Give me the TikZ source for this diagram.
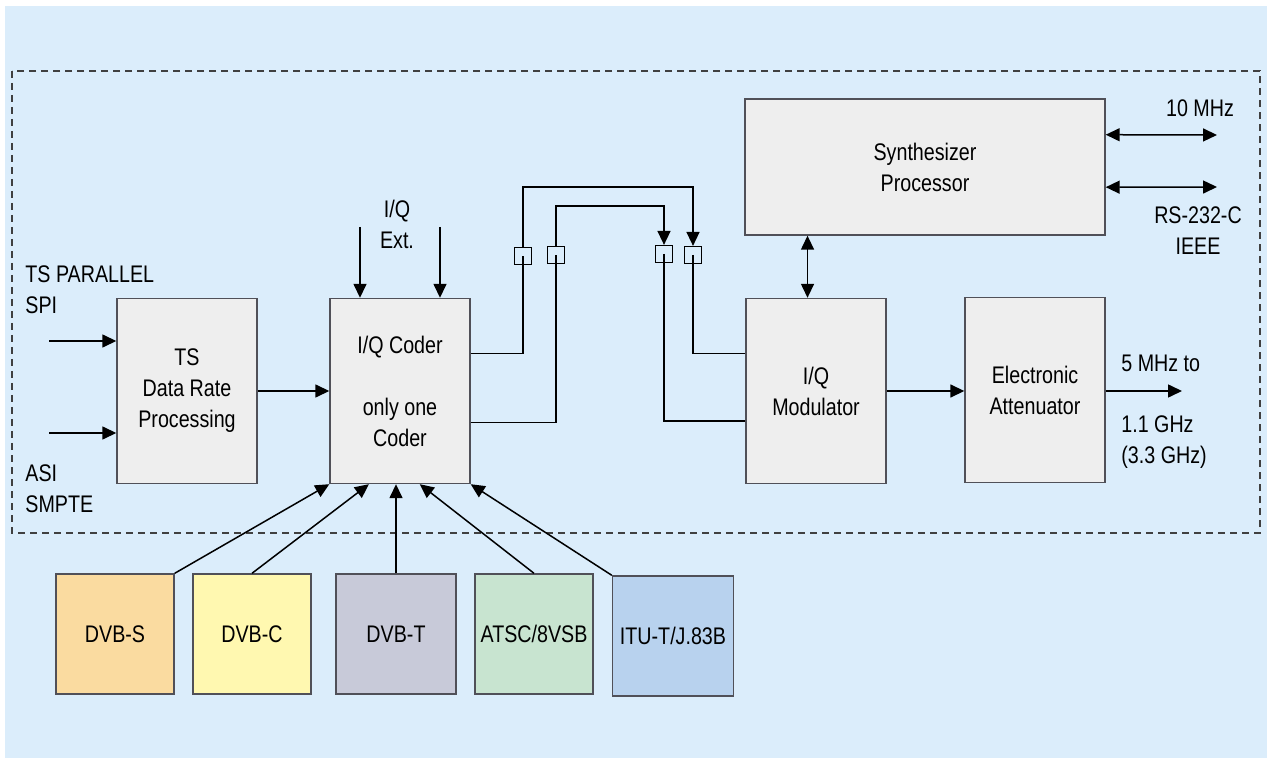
\documentclass[tikz,border=0pt]{standalone}
\usepackage{fontspec}
\setmainfont{Liberation Sans}[FakeStretch=0.82]
\usetikzlibrary{arrows.meta,calc}
\definecolor{panelblue}{RGB}{219,237,251}
\definecolor{boxgray}{RGB}{238,238,238}
\definecolor{boxedge}{RGB}{80,80,88}
\definecolor{dvbsfill}{RGB}{250,219,160}
\definecolor{dvbcfill}{RGB}{255,248,176}
\definecolor{dvbtfill}{RGB}{200,202,217}
\definecolor{atscfill}{RGB}{200,228,208}
\definecolor{itufill}{RGB}{184,210,238}
\begin{document}
\begin{tikzpicture}[x=0.5pt,y=-0.5pt,
    font=\fontsize{12pt}{15.5pt}\selectfont,
    block/.style={draw=boxedge, line width=0.7pt, fill=boxgray, align=center, inner sep=0pt, minimum width=70pt, minimum height=92.5pt},
    std box/.style={draw=boxedge, line width=0.7pt, fill=#1, align=center, inner sep=0pt, minimum width=59pt, minimum height=60pt},
    jack/.style={draw, line width=0.6pt, minimum size=8.5pt, inner sep=0pt},
    wire/.style={line width=0.75pt},
    sig/.style={wire, -{Triangle[length=7pt,width=6.5pt]}},
    bisig/.style={wire, {Triangle[length=7pt,width=6.5pt]}-{Triangle[length=7pt,width=6.5pt]}},
    lbl/.style={inner sep=0pt}
]
\useasboundingbox (0,0) rectangle (1267,758);
\fill[panelblue] (5,6) rectangle (1267,758);
\draw[black!75, line width=0.65pt, dash pattern=on 3.5pt off 2.5pt] (12,71) rectangle (1260,533);

% main chain
\node [block] (ts) at (187,391) {TS\\Data Rate\\Processing};
\node [block] (coder) at (400,391) {I/Q Coder\\[15.5pt]only one\\Coder};
\node [block] (mod) at (816,391) {I/Q\\Modulator};
\node [block] (att) at (1035,390) {Electronic\\Attenuator};
\node [block, minimum width=180pt, minimum height=68pt] (synth) at (925,167) {Synthesizer\\Processor};

% standards
\node [std box=dvbsfill] (dvbs) at (115,634) {DVB-S};
\node [std box=dvbcfill] (dvbc) at (252,634) {DVB-C};
\node [std box=dvbtfill, minimum width=60pt] (dvbt) at (396,634) {DVB-T};
\node [std box=atscfill] (atsc) at (534,634) {ATSC/8VSB};
\node [std box=itufill, minimum width=60.5pt] (itu) at (673,636) {ITU-T/J.83B};

% I/Q jacks
\node [jack] (jo1) at (523,256) {};
\node [jack] (jo2) at (556,255) {};
\node [jack] (ji2) at (664,254) {};
\node [jack] (ji1) at (693,255) {};

% texts
\node [lbl, anchor=west, align=left] (tspar) at (25,290) {TS PARALLEL\\SPI};
\node [lbl, anchor=west, align=left] (asi) at (25,489) {ASI\\SMPTE};
\node [lbl, align=center] (iqext) at (397,224) {I/Q\\Ext.};
\node [lbl] (tenmhz) at (1200,108) {10 MHz};
\node [lbl, align=center] (rs) at (1198,231) {RS-232-C\\IEEE};
\node [lbl, anchor=west] (fmin) at (1121,363) {5 MHz to};
\node [lbl, anchor=west, align=left] (fmax) at (1121,442) {1.1 GHz\\(3.3 GHz)};

% free ends
\coordinate (spi) at (49,341);
\coordinate (asiin) at (49,433);
\coordinate (exta) at (360,227);
\coordinate (extb) at (440,227);
\coordinate (refout) at (1217,135);
\coordinate (remout) at (1217,187);
\coordinate (rfout) at (1182,391);

\draw [sig] (spi) -- (spi -| ts.west);
\draw [sig] (asiin) -- (asiin -| ts.west);
\draw [sig] (ts) -- (coder);
\draw [sig] (exta) -- (exta |- coder.north);
\draw [sig] (extb) -- (extb |- coder.north);

% coder to modulator via jacks
\draw [wire] ($(coder.north east)!0.30!(coder.south east)$) -| (jo1.center);
\draw [wire] ($(coder.north east)!0.67!(coder.south east)$) -| (jo2.center);
\draw [sig] (jo1.north) -- ++(0,-60) -| (ji1.north);
\draw [sig] (jo2.north) -- ++(0,-40) -| (ji2.north);
\draw [wire] (ji1.center) |- ($(mod.north west)!0.30!(mod.south west)$);
\draw [wire] (ji2.center) |- ($(mod.north west)!0.66!(mod.south west)$);

\draw [bisig] ($(mod.north west)!0.44!(mod.north east)$) coordinate (mtop) -- (mtop |- synth.south);
\draw [bisig] ($(synth.north east)!0.265!(synth.south east)$) -- (refout);
\draw [bisig] ($(synth.north east)!0.647!(synth.south east)$) -- (remout);
\draw [sig] (mod.east) -- (mod.east -| att.west);
\draw [sig] (att.east |- rfout) -- (rfout);

% standards into coder
\draw [sig] (dvbs.north east) -- (coder.south west);
\draw [sig] (dvbc.north) -- ($(coder.south west)!0.28!(coder.south east)$);
\draw [sig] (dvbt.north) -- (dvbt.north |- coder.south);
\draw [sig] (atsc.north) -- ($(coder.south west)!0.64!(coder.south east)$);
\draw [sig] (itu.north west) -- (coder.south east);

\end{tikzpicture}
\end{document}
